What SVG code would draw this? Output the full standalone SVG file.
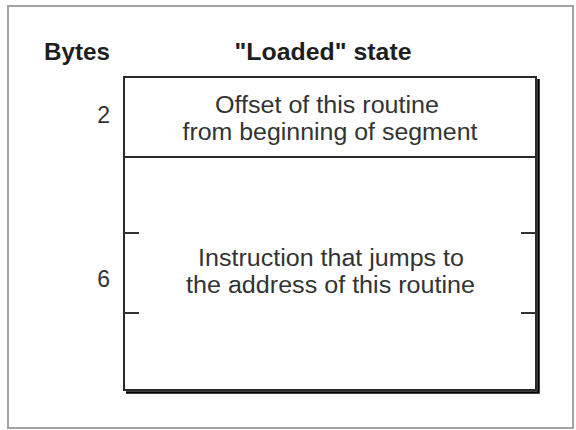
<svg xmlns="http://www.w3.org/2000/svg" width="576" height="430" viewBox="0 0 576 430">
  <style>
    .head { font-family: "Liberation Sans", Arial, sans-serif; font-size: 24px; font-weight: bold; fill: #1e1e1e; }
    .num { font-family: "Liberation Sans", Arial, sans-serif; font-size: 23px; fill: #333; text-anchor: end; }
    .body { font-family: "Liberation Sans", Arial, sans-serif; font-size: 23px; fill: #333; text-anchor: middle; }
    .edge { stroke: #2a2a2a; stroke-width: 2; fill: none; }
    .shadow { stroke: #000; stroke-width: 2.5; fill: none; }
    .tick { stroke: #333; stroke-width: 2; }
  </style>

  <rect width="576" height="430" fill="#ffffff"/>
  <!-- outer frame -->
  <rect x="8" y="6" width="565" height="422" fill="none" stroke="#a3a3a3" stroke-width="2"/>

  <!-- column headings -->
  <g id="headings">
    <text class="head" x="44" y="60" textLength="66" lengthAdjust="spacingAndGlyphs">Bytes</text>
    <text class="head" x="323" y="60" text-anchor="middle" textLength="177" lengthAdjust="spacingAndGlyphs">"Loaded" state</text>
  </g>

  <!-- record outline with drop shadow -->
  <g id="record">
    <polyline class="shadow" points="538.5,79 538.5,392.5 126,392.5"/>
    <rect class="edge" x="124" y="77" width="412" height="313" fill="#fff"/>
  </g>

  <!-- field 1: 2 bytes -->
  <g id="field-offset">
    <line class="edge" x1="124" y1="157" x2="536" y2="157"/>
    <text class="num" x="110" y="123">2</text>
    <text class="body" x="327" y="113" textLength="224" lengthAdjust="spacingAndGlyphs">Offset of this routine</text>
    <text class="body" x="330" y="140" textLength="295" lengthAdjust="spacingAndGlyphs">from beginning of segment</text>
  </g>

  <!-- field 2: 6 bytes, with word-boundary ticks -->
  <g id="field-jump">
    <line class="tick" x1="124" y1="233" x2="139" y2="233"/>
    <line class="tick" x1="124" y1="313" x2="139" y2="313"/>
    <line class="tick" x1="521" y1="233" x2="536" y2="233"/>
    <line class="tick" x1="521" y1="313" x2="536" y2="313"/>
    <text class="num" x="110" y="287">6</text>
    <text class="body" x="331" y="266" textLength="266" lengthAdjust="spacingAndGlyphs">Instruction that jumps to</text>
    <text class="body" x="330.5" y="293" textLength="289" lengthAdjust="spacingAndGlyphs">the address of this routine</text>
  </g>

  <g id="connectors"/>
</svg>
